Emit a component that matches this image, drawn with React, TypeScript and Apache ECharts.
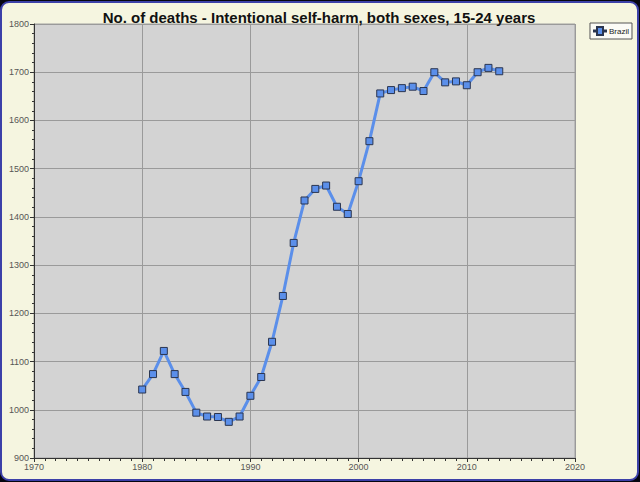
import React, { useEffect, useRef } from "react";
import * as echarts from "echarts";

const title = "No. of deaths - Intentional self-harm, both sexes, 15-24 years";
const seriesName = "Brazil";
const years = [
  1980, 1981, 1982, 1983, 1984, 1985, 1986, 1987, 1988, 1989, 1990, 1991, 1992, 1993, 1994, 1995, 1996,
  1997, 1998, 1999, 2000, 2001, 2002, 2003, 2004, 2005, 2006, 2007, 2008, 2009, 2010, 2011, 2012, 2013,
];
const deaths = [
  1042, 1074, 1122, 1074, 1037, 994, 986, 985, 975, 986, 1029, 1068, 1141, 1236, 1346, 1434, 1458,
  1465, 1421, 1406, 1474, 1557, 1656, 1663, 1667, 1670, 1661, 1700, 1679, 1681, 1673, 1700, 1709, 1702,
];
const xMin = 1970;
const xMax = 2020;
const yMin = 900;
const yMax = 1800;

export default function App() {
  const ref = useRef<HTMLDivElement>(null);
  useEffect(() => {
    if (!ref.current) return;
    const chart = echarts.init(ref.current, null, { renderer: "svg" });
    const lineColor = "#5b8fea";
    chart.setOption({
      animation: false,
      backgroundColor: "#05050f",
      graphic: [
        {
          type: "rect",
          z: -10,
          silent: true,
          shape: { x: 1, y: 2, width: 637, height: 478, r: 8 },
          style: { fill: "#f5f5e0", stroke: "#3c40a8", lineWidth: 2 },
        },
      ],
      title: {
        text: title,
        left: 314,
        textAlign: "center",
        top: 5,
        textStyle: { fontFamily: "Liberation Sans, Arial", fontSize: 15, fontWeight: "bold", color: "#111" },
      },
      legend: {
        right: 8,
        top: 23,
        orient: "vertical",
        backgroundColor: "#fbfbf6",
        borderColor: "#555",
        borderWidth: 1,
        borderRadius: 0,
        padding: [3, 3, 3, 3],
        itemWidth: 12,
        itemHeight: 8,
        itemGap: 4,
        textStyle: { fontFamily: "Liberation Sans, Arial", fontSize: 8, color: "#222", padding: [0, 0, 0, -2] },
        data: [{ name: seriesName, icon: "path://M0,3.5L3,3.5L3,0L9,0L9,3.5L12,3.5L12,4.5L9,4.5L9,8L3,8L3,4.5L0,4.5Z" }],
      },
      grid: {
        left: 34,
        right: 65,
        top: 24,
        bottom: 24,
        show: true,
        backgroundColor: "#d3d3d3",
        borderColor: "#a0a0a0",
        borderWidth: 1,
      },
      xAxis: {
        type: "value",
        min: xMin,
        max: xMax,
        interval: 10,
        axisLine: { show: true, onZero: false, lineStyle: { color: "#333" } },
        axisTick: { show: true, length: 4, lineStyle: { color: "#333" } },
        minorTick: { show: true, splitNumber: 10, length: 3, lineStyle: { color: "#333" } },
        splitLine: { show: true, lineStyle: { color: "#9a9a9a", width: 1 } },
        axisLabel: {
          color: "#555",
          fontSize: 9,
          fontFamily: "Liberation Sans, Arial",
          margin: 4,
          showMaxLabel: true,
          showMinLabel: true,
          formatter: (v: number) => String(v),
        },
      },
      yAxis: {
        type: "value",
        min: yMin,
        max: yMax,
        interval: 100,
        axisLine: { show: true, onZero: false, lineStyle: { color: "#333" } },
        axisTick: { show: true, length: 4, lineStyle: { color: "#333" } },
        minorTick: { show: true, splitNumber: 5, length: 2, lineStyle: { color: "#333" } },
        splitLine: { show: true, lineStyle: { color: "#9a9a9a", width: 1 } },
        axisLabel: {
          color: "#555",
          fontSize: 9,
          fontFamily: "Liberation Sans, Arial",
          margin: 5,
          formatter: (v: number) => String(v),
        },
      },
      series: [
        {
          name: seriesName,
          type: "line",
          data: years.map((y, i) => [y, deaths[i]]),
          lineStyle: { color: lineColor, width: 3 },
          itemStyle: { color: lineColor, borderColor: "#2a3550", borderWidth: 1 },
          symbol: "rect",
          symbolSize: 7,
          showSymbol: true,
        },
      ],
    });
    return () => chart.dispose();
  }, []);
  return (
    <div
      ref={ref}
      style={{ position: "fixed", left: 0, top: 0, width: 640, height: 482 }}
    />
  );
}
